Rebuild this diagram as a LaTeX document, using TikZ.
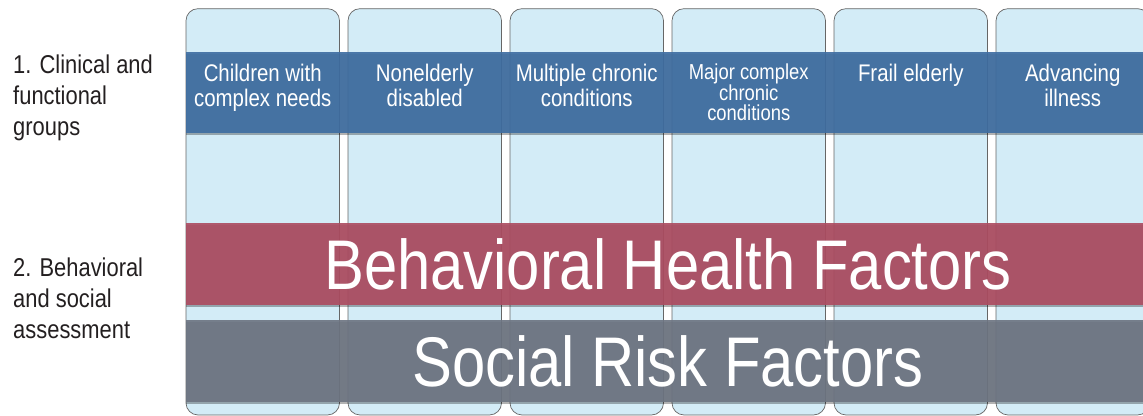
\documentclass[tikz,border=0pt]{standalone}
\usepackage{fontspec}
\setmainfont{Liberation Sans}[FakeStretch=0.85]
\usetikzlibrary{positioning, shadows}

\definecolor{colfill}{HTML}{D3ECF7}
\definecolor{groupblue}{HTML}{3F6EA2}
\definecolor{behavred}{HTML}{AD4D62}
\definecolor{socialgray}{HTML}{6E7582}
\definecolor{labeltext}{HTML}{231F20}

\begin{document}
\begin{tikzpicture}[
column/.style={rectangle, rounded corners=0.36cm, draw=black!60, fill=colfill,
    line width=0.6pt, minimum width=4.605cm, minimum height=12.19cm,
    inner sep=0pt, outer sep=0pt, node distance=0.255cm},
band/.style={rectangle, inner sep=0pt, minimum width=28.9cm, minimum height=2.45cm,
    fill opacity=0.92, text opacity=1, text=white, anchor=north west,
    font=\fontsize{60}{60}\selectfont,
    drop shadow={shadow xshift=0pt, shadow yshift=-0.05cm, opacity=0.3, fill=black}},
group/.style={align=center, inner sep=0pt, anchor=north, yshift=-0.36cm,
    text=white, font=\fontsize{20.5}{21.5}\selectfont},
stage/.style={align=left, inner sep=0pt, anchor=north west, text=labeltext,
    font=\fontsize{22}{26.4}\selectfont}
]
\useasboundingbox (0,0) rectangle (34.29,12.48);
\clip (0,0) rectangle (34.29,12.48);

\node [column, anchor=south west] (children) at (5.58,0.03) {};
\node [column, right=of children] (nonelderly) {};
\node [column, right=of nonelderly] (multiple) {};
\node [column, right=of multiple] (major) {};
\node [column, right=of major] (frail) {};
\node [column, right=of frail] (advancing) {};

\node [band, fill=groupblue, minimum height=2.43cm] (groups) at (5.58,10.92) {};
\node [band, fill=behavred] (behavioral) at (5.58,5.79) {Behavioral Health Factors};
\node [band, fill=socialgray] (social) at (5.58,2.88) {Social Risk Factors};

\node [group] (children-text) at (children |- groups.north) {Children with\\complex needs};
\node [group] (nonelderly-text) at (nonelderly |- groups.north) {Nonelderly\\disabled};
\node [group] (multiple-text) at (multiple |- groups.north) {Multiple chronic\\conditions};
\node [group, font=\fontsize{18.5}{17.5}\selectfont] (major-text) at (major |- groups.north) {Major complex\\chronic\\conditions};
\node [group] (frail-text) at (frail |- groups.north) {Frail elderly};
\node [group] (advancing-text) at (advancing |- groups.north) {Advancing\\illness};

\node [stage] (clinical-label) at (0.39,10.83) {1. Clinical and\\functional\\groups};
\node [stage] (assessment-label) at (0.39,4.74) {2. Behavioral\\and social\\assessment};
\end{tikzpicture}
\end{document}
